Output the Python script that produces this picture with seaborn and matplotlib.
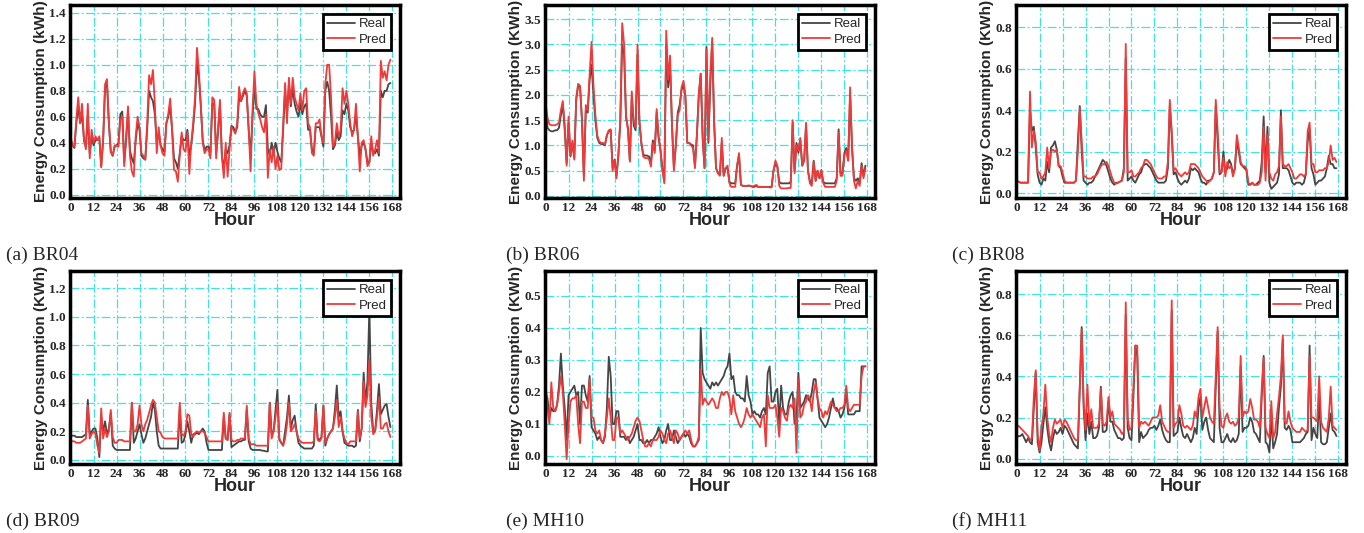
import matplotlib
matplotlib.use("Agg")
import numpy as np
import pandas as pd
import seaborn as sns
import matplotlib.pyplot as plt

# hourly values (one week, 168 h)
hours = list(range(168))

br04_real = [0.42, 0.38, 0.36, 0.55, 0.68, 0.55, 0.62, 0.42, 0.37, 0.60, 0.32, 0.45,
             0.38, 0.42, 0.42, 0.44, 0.22, 0.42, 0.82, 0.86, 0.55, 0.33, 0.30, 0.37,
             0.38, 0.40, 0.62, 0.64, 0.25, 0.42, 0.64, 0.34, 0.28, 0.24, 0.42, 0.55,
             0.50, 0.30, 0.28, 0.27, 0.50, 0.80, 0.75, 0.72, 0.62, 0.40, 0.48, 0.38,
             0.35, 0.33, 0.55, 0.60, 0.68, 0.50, 0.28, 0.25, 0.20, 0.32, 0.45, 0.42,
             0.42, 0.50, 0.30, 0.38, 0.52, 0.70, 1.02, 0.90, 0.68, 0.42, 0.34, 0.37,
             0.37, 0.32, 0.70, 0.70, 0.32, 0.48, 0.70, 0.30, 0.20, 0.35, 0.32, 0.38,
             0.53, 0.52, 0.48, 0.52, 0.75, 0.72, 0.76, 0.80, 0.76, 0.50, 0.30, 0.60,
             0.85, 0.66, 0.66, 0.62, 0.60, 0.60, 0.69, 0.35, 0.30, 0.40, 0.32, 0.40,
             0.33, 0.28, 0.25, 0.50, 0.80, 0.62, 0.85, 0.68, 0.82, 0.70, 0.64, 0.60,
             0.70, 0.62, 0.68, 0.70, 0.50, 0.50, 0.35, 0.32, 0.52, 0.52, 0.52, 0.45,
             0.37, 0.80, 0.87, 0.80, 0.60, 0.35, 0.38, 0.48, 0.42, 0.45, 0.65, 0.62,
             0.70, 0.65, 0.52, 0.48, 0.50, 0.62, 0.45, 0.30, 0.38, 0.40, 0.35, 0.25,
             0.25, 0.40, 0.32, 0.32, 0.35, 0.30, 0.80, 0.75, 0.80, 0.80, 0.85, 0.86]
br04_pred = [0.45, 0.38, 0.37, 0.58, 0.75, 0.55, 0.70, 0.42, 0.35, 0.70, 0.28, 0.50,
             0.40, 0.45, 0.42, 0.45, 0.21, 0.42, 0.85, 0.89, 0.55, 0.33, 0.30, 0.38,
             0.38, 0.37, 0.58, 0.60, 0.22, 0.45, 0.68, 0.30, 0.18, 0.14, 0.45, 0.60,
             0.52, 0.32, 0.30, 0.27, 0.55, 0.92, 0.85, 0.96, 0.70, 0.32, 0.52, 0.38,
             0.32, 0.30, 0.55, 0.62, 0.74, 0.50, 0.19, 0.18, 0.10, 0.30, 0.48, 0.35,
             0.33, 0.48, 0.16, 0.40, 0.55, 0.75, 1.13, 0.95, 0.70, 0.40, 0.32, 0.35,
             0.35, 0.28, 0.75, 0.73, 0.28, 0.50, 0.73, 0.30, 0.13, 0.40, 0.14, 0.35,
             0.52, 0.50, 0.47, 0.55, 0.83, 0.72, 0.78, 0.82, 0.78, 0.50, 0.18, 0.65,
             0.95, 0.70, 0.63, 0.58, 0.52, 0.48, 0.62, 0.13, 0.35, 0.25, 0.37, 0.20,
             0.30, 0.19, 0.20, 0.55, 0.86, 0.55, 0.90, 0.70, 0.90, 0.75, 0.70, 0.65,
             0.78, 0.65, 0.80, 0.82, 0.55, 0.52, 0.32, 0.30, 0.55, 0.55, 0.58, 0.45,
             0.40, 0.85, 1.00, 1.00, 0.75, 0.37, 0.40, 0.55, 0.45, 0.50, 0.82, 0.70,
             0.80, 0.70, 0.55, 0.45, 0.50, 0.70, 0.45, 0.18, 0.40, 0.42, 0.35, 0.22,
             0.25, 0.45, 0.30, 0.35, 0.42, 0.32, 1.03, 0.90, 0.95, 0.88, 1.00, 1.04]

br06_real = [1.80, 1.35, 1.30, 1.28, 1.28, 1.30, 1.30, 1.35, 1.60, 1.80, 1.30, 0.65,
             1.45, 0.78, 1.05, 0.75, 1.90, 2.18, 2.15, 1.50, 0.40, 1.70, 1.65, 2.30,
             2.60, 2.00, 1.50, 1.15, 1.05, 1.03, 1.02, 1.00, 1.20, 1.28, 1.30, 0.55,
             0.72, 0.40, 0.80, 1.45, 3.00, 2.80, 1.55, 1.35, 0.70, 1.95, 1.40, 1.30,
             2.80, 1.45, 1.05, 0.82, 0.80, 0.80, 0.78, 0.65, 1.10, 0.90, 1.65, 1.15,
             0.90, 0.55, 0.30, 3.00, 2.15, 2.60, 1.40, 0.55, 1.00, 1.65, 1.80, 2.10,
             2.20, 1.95, 1.05, 1.05, 1.02, 1.00, 0.60, 1.20, 2.00, 2.42, 1.15, 0.55,
             2.95, 1.05, 2.20, 3.05, 1.45, 0.55, 0.45, 0.42, 1.05, 0.40, 0.55, 0.55,
             0.28, 0.25, 0.25, 0.25, 0.60, 0.80, 0.22, 0.20, 0.20, 0.20, 0.20, 0.20,
             0.18, 0.18, 0.20, 0.18, 0.18, 0.18, 0.18, 0.18, 0.18, 0.18, 0.18, 0.50,
             0.65, 0.58, 0.28, 0.25, 0.25, 0.25, 0.25, 0.25, 0.28, 1.45, 0.50, 1.05,
             0.85, 1.10, 0.60, 0.70, 1.40, 0.50, 0.30, 0.25, 0.70, 0.30, 0.50, 0.35,
             0.50, 0.28, 0.25, 0.25, 0.25, 0.25, 0.25, 0.25, 0.35, 1.32, 0.45, 0.45,
             0.85, 0.95, 0.70, 2.00, 0.95, 0.35, 0.30, 0.35, 0.25, 0.65, 0.40, 0.60]
br06_pred = [1.85, 1.55, 1.42, 1.40, 1.40, 1.40, 1.42, 1.45, 1.70, 1.88, 1.40, 0.60,
             1.57, 0.80, 1.10, 0.72, 1.95, 2.22, 2.18, 1.50, 0.30, 1.80, 1.70, 2.40,
             3.05, 2.20, 1.60, 1.20, 1.08, 1.05, 1.05, 1.02, 1.20, 1.30, 1.32, 0.50,
             0.70, 0.35, 0.80, 1.50, 3.42, 3.00, 1.60, 1.30, 0.68, 2.07, 1.50, 1.35,
             3.00, 1.50, 1.05, 0.78, 0.75, 0.75, 0.73, 0.58, 1.05, 0.85, 1.72, 1.20,
             0.90, 0.50, 0.25, 3.27, 2.30, 2.78, 1.40, 0.50, 1.00, 1.60, 1.70, 2.15,
             2.28, 2.00, 1.05, 1.05, 1.00, 0.95, 0.55, 1.20, 2.00, 2.42, 1.20, 0.55,
             2.90, 1.10, 2.40, 3.13, 1.50, 0.55, 0.45, 0.40, 1.15, 0.40, 0.55, 0.60,
             0.25, 0.18, 0.18, 0.18, 0.60, 0.85, 0.22, 0.20, 0.20, 0.20, 0.21, 0.20,
             0.19, 0.20, 0.22, 0.18, 0.18, 0.18, 0.18, 0.18, 0.18, 0.17, 0.17, 0.50,
             0.70, 0.60, 0.20, 0.15, 0.15, 0.15, 0.15, 0.16, 0.16, 1.50, 0.45, 1.00,
             0.90, 1.15, 0.60, 0.70, 1.45, 0.50, 0.25, 0.20, 0.68, 0.30, 0.50, 0.35,
             0.52, 0.25, 0.18, 0.18, 0.18, 0.18, 0.18, 0.18, 0.30, 1.25, 0.40, 0.40,
             0.80, 0.90, 0.70, 2.15, 1.00, 0.30, 0.15, 0.30, 0.20, 0.60, 0.35, 0.55]

br08_real = [0.06, 0.055, 0.05, 0.05, 0.05, 0.05, 0.05, 0.40, 0.30, 0.32, 0.22, 0.09,
             0.05, 0.04, 0.07, 0.06, 0.15, 0.10, 0.22, 0.23, 0.25, 0.21, 0.13, 0.12,
             0.08, 0.05, 0.05, 0.05, 0.05, 0.05, 0.05, 0.06, 0.25, 0.42, 0.20, 0.06,
             0.05, 0.04, 0.05, 0.05, 0.06, 0.08, 0.10, 0.12, 0.14, 0.16, 0.15, 0.13,
             0.10, 0.07, 0.05, 0.04, 0.05, 0.05, 0.055, 0.06, 0.12, 0.65, 0.06, 0.07,
             0.08, 0.06, 0.05, 0.07, 0.09, 0.10, 0.13, 0.14, 0.14, 0.13, 0.12, 0.10,
             0.08, 0.06, 0.05, 0.05, 0.05, 0.05, 0.06, 0.12, 0.42, 0.28, 0.09, 0.10,
             0.07, 0.05, 0.04, 0.05, 0.06, 0.05, 0.07, 0.12, 0.11, 0.12, 0.11, 0.10,
             0.07, 0.05, 0.05, 0.04, 0.06, 0.06, 0.07, 0.10, 0.42, 0.25, 0.09, 0.10,
             0.20, 0.10, 0.12, 0.16, 0.14, 0.09, 0.12, 0.25, 0.20, 0.14, 0.13, 0.12,
             0.11, 0.04, 0.04, 0.05, 0.04, 0.04, 0.05, 0.06, 0.15, 0.37, 0.10, 0.32,
             0.05, 0.02, 0.03, 0.04, 0.05, 0.09, 0.40, 0.12, 0.12, 0.12, 0.11, 0.08,
             0.05, 0.04, 0.05, 0.05, 0.05, 0.04, 0.05, 0.09, 0.25, 0.31, 0.12, 0.09,
             0.04, 0.05, 0.06, 0.06, 0.07, 0.08, 0.12, 0.18, 0.14, 0.14, 0.12, 0.12]
br08_pred = [0.06, 0.055, 0.05, 0.05, 0.05, 0.05, 0.05, 0.49, 0.22, 0.30, 0.25, 0.10,
             0.10, 0.07, 0.08, 0.10, 0.22, 0.12, 0.20, 0.21, 0.20, 0.21, 0.13, 0.13,
             0.10, 0.06, 0.05, 0.05, 0.05, 0.05, 0.05, 0.06, 0.20, 0.41, 0.25, 0.08,
             0.08, 0.07, 0.07, 0.07, 0.08, 0.08, 0.09, 0.11, 0.13, 0.14, 0.14, 0.15,
             0.13, 0.10, 0.07, 0.05, 0.045, 0.05, 0.055, 0.06, 0.10, 0.72, 0.10, 0.10,
             0.11, 0.08, 0.08, 0.09, 0.10, 0.12, 0.13, 0.16, 0.16, 0.15, 0.14, 0.12,
             0.10, 0.08, 0.07, 0.07, 0.07, 0.08, 0.08, 0.15, 0.45, 0.30, 0.11, 0.12,
             0.10, 0.09, 0.08, 0.09, 0.10, 0.09, 0.10, 0.14, 0.14, 0.14, 0.13, 0.12,
             0.10, 0.08, 0.07, 0.06, 0.05, 0.06, 0.07, 0.10, 0.45, 0.30, 0.10, 0.10,
             0.17, 0.08, 0.15, 0.12, 0.13, 0.08, 0.12, 0.28, 0.22, 0.15, 0.13, 0.13,
             0.12, 0.05, 0.04, 0.05, 0.04, 0.04, 0.04, 0.05, 0.10, 0.32, 0.06, 0.28,
             0.10, 0.07, 0.06, 0.09, 0.10, 0.13, 0.37, 0.14, 0.13, 0.13, 0.14, 0.12,
             0.10, 0.07, 0.07, 0.08, 0.09, 0.09, 0.08, 0.09, 0.30, 0.34, 0.14, 0.14,
             0.10, 0.10, 0.11, 0.11, 0.11, 0.12, 0.12, 0.15, 0.23, 0.16, 0.17, 0.15]

br09_real = [0.17, 0.17, 0.17, 0.16, 0.16, 0.16, 0.16, 0.17, 0.18, 0.42, 0.18, 0.20,
             0.22, 0.22, 0.15, 0.02, 0.30, 0.20, 0.27, 0.18, 0.22, 0.33, 0.10, 0.08,
             0.07, 0.07, 0.07, 0.07, 0.07, 0.07, 0.07, 0.07, 0.40, 0.12, 0.15, 0.20,
             0.25, 0.18, 0.12, 0.15, 0.20, 0.25, 0.30, 0.40, 0.35, 0.20, 0.10, 0.08,
             0.08, 0.08, 0.08, 0.08, 0.08, 0.08, 0.08, 0.08, 0.08, 0.35, 0.12, 0.13,
             0.18, 0.27, 0.20, 0.12, 0.18, 0.18, 0.19, 0.18, 0.20, 0.22, 0.20, 0.12,
             0.07, 0.07, 0.07, 0.07, 0.07, 0.07, 0.07, 0.07, 0.30, 0.15, 0.14, 0.32,
             0.09, 0.10, 0.11, 0.12, 0.13, 0.13, 0.14, 0.14, 0.35, 0.13, 0.08, 0.07,
             0.07, 0.07, 0.07, 0.07, 0.065, 0.065, 0.06, 0.06, 0.40, 0.18, 0.20, 0.35,
             0.49, 0.14, 0.12, 0.10, 0.20, 0.30, 0.45, 0.22, 0.28, 0.31, 0.20, 0.12,
             0.10, 0.09, 0.08, 0.08, 0.08, 0.08, 0.08, 0.10, 0.39, 0.15, 0.14, 0.16,
             0.38, 0.10, 0.15, 0.18, 0.20, 0.22, 0.35, 0.52, 0.30, 0.34, 0.20, 0.12,
             0.11, 0.10, 0.10, 0.10, 0.09, 0.10, 0.35, 0.13, 0.22, 0.61, 0.40, 0.55,
             1.06, 0.40, 0.20, 0.20, 0.35, 0.53, 0.32, 0.35, 0.38, 0.39, 0.30, 0.23]
br09_pred = [0.14, 0.13, 0.13, 0.12, 0.12, 0.12, 0.13, 0.14, 0.15, 0.38, 0.15, 0.18,
             0.20, 0.18, 0.10, 0.05, 0.36, 0.15, 0.22, 0.16, 0.20, 0.35, 0.16, 0.12,
             0.12, 0.14, 0.14, 0.14, 0.13, 0.13, 0.13, 0.13, 0.40, 0.20, 0.20, 0.25,
             0.38, 0.25, 0.20, 0.25, 0.28, 0.33, 0.38, 0.42, 0.40, 0.30, 0.20, 0.19,
             0.16, 0.15, 0.15, 0.15, 0.15, 0.15, 0.15, 0.15, 0.15, 0.40, 0.18, 0.17,
             0.20, 0.32, 0.31, 0.18, 0.16, 0.19, 0.20, 0.19, 0.20, 0.20, 0.19, 0.16,
             0.13, 0.13, 0.13, 0.13, 0.13, 0.13, 0.13, 0.13, 0.33, 0.15, 0.14, 0.33,
             0.14, 0.13, 0.13, 0.14, 0.14, 0.15, 0.15, 0.15, 0.38, 0.15, 0.11, 0.11,
             0.11, 0.10, 0.10, 0.10, 0.10, 0.10, 0.10, 0.10, 0.40, 0.15, 0.20, 0.30,
             0.40, 0.15, 0.12, 0.10, 0.15, 0.25, 0.40, 0.20, 0.22, 0.25, 0.20, 0.15,
             0.13, 0.12, 0.12, 0.12, 0.12, 0.12, 0.12, 0.13, 0.34, 0.14, 0.13, 0.15,
             0.38, 0.12, 0.15, 0.18, 0.20, 0.22, 0.30, 0.42, 0.23, 0.30, 0.20, 0.15,
             0.12, 0.11, 0.13, 0.13, 0.13, 0.13, 0.34, 0.15, 0.22, 0.55, 0.37, 0.45,
             0.70, 0.30, 0.18, 0.20, 0.30, 0.44, 0.22, 0.22, 0.25, 0.26, 0.20, 0.16]

mh10_real = [0.20, 0.18, 0.12, 0.15, 0.14, 0.14, 0.16, 0.22, 0.32, 0.22, 0.15, 0.05,
             0.19, 0.20, 0.21, 0.22, 0.19, 0.20, 0.10, 0.22, 0.22, 0.19, 0.17, 0.25,
             0.09, 0.08, 0.07, 0.05, 0.06, 0.05, 0.04, 0.06, 0.15, 0.31, 0.25, 0.10,
             0.10, 0.14, 0.14, 0.06, 0.06, 0.06, 0.05, 0.06, 0.04, 0.05, 0.06, 0.08,
             0.10, 0.05, 0.05, 0.04, 0.04, 0.05, 0.04, 0.05, 0.05, 0.06, 0.07, 0.09,
             0.06, 0.04, 0.05, 0.08, 0.10, 0.05, 0.05, 0.08, 0.06, 0.04, 0.05, 0.06,
             0.07, 0.06, 0.07, 0.06, 0.04, 0.03, 0.03, 0.04, 0.05, 0.40, 0.26, 0.24,
             0.23, 0.22, 0.21, 0.23, 0.22, 0.23, 0.22, 0.23, 0.24, 0.25, 0.27, 0.28,
             0.32, 0.24, 0.25, 0.20, 0.19, 0.19, 0.18, 0.18, 0.17, 0.25, 0.19, 0.17,
             0.13, 0.14, 0.13, 0.13, 0.12, 0.14, 0.15, 0.13, 0.26, 0.28, 0.17, 0.17,
             0.20, 0.21, 0.10, 0.22, 0.15, 0.13, 0.13, 0.17, 0.19, 0.20, 0.10, 0.12,
             0.26, 0.15, 0.16, 0.17, 0.19, 0.18, 0.17, 0.20, 0.24, 0.24, 0.18, 0.12,
             0.11, 0.10, 0.09, 0.10, 0.12, 0.15, 0.18, 0.15, 0.15, 0.14, 0.12, 0.13,
             0.15, 0.20, 0.13, 0.13, 0.13, 0.13, 0.14, 0.14, 0.14, 0.28, 0.28, 0.28]
mh10_pred = [0.22, 0.15, 0.10, 0.23, 0.15, 0.14, 0.16, 0.20, 0.25, 0.20, 0.10, -0.01,
             0.10, 0.17, 0.18, 0.18, 0.19, 0.10, 0.04, 0.17, 0.17, 0.15, 0.15, 0.24,
             0.12, 0.12, 0.08, 0.07, 0.08, 0.05, 0.04, 0.07, 0.12, 0.18, 0.12, 0.05,
             0.05, 0.12, 0.12, 0.07, 0.08, 0.07, 0.06, 0.05, 0.06, 0.07, 0.09, 0.11,
             0.12, 0.11, 0.08, 0.05, 0.03, 0.03, 0.04, 0.03, 0.05, 0.05, 0.05, 0.06,
             0.08, 0.07, 0.05, 0.04, 0.07, 0.08, 0.06, 0.04, 0.08, 0.07, 0.05, 0.06,
             0.07, 0.08, 0.07, 0.08, 0.05, 0.03, 0.03, 0.04, 0.06, 0.27, 0.16, 0.18,
             0.17, 0.16, 0.17, 0.18, 0.17, 0.15, 0.15, 0.18, 0.20, 0.19, 0.20, 0.20,
             0.18, 0.13, 0.19, 0.14, 0.12, 0.10, 0.09, 0.10, 0.12, 0.15, 0.13, 0.12,
             0.13, 0.12, 0.11, 0.10, 0.09, 0.12, 0.13, 0.03, 0.19, 0.15, 0.15, 0.15,
             0.16, 0.12, 0.06, 0.15, 0.14, 0.12, 0.11, 0.15, 0.16, 0.15, 0.18, 0.01,
             0.24, 0.12, 0.13, 0.16, 0.17, 0.19, 0.18, 0.14, 0.20, 0.23, 0.18, 0.15,
             0.14, 0.12, 0.14, 0.13, 0.15, 0.17, 0.16, 0.15, 0.14, 0.14, 0.15, 0.15,
             0.16, 0.22, 0.15, 0.14, 0.15, 0.16, 0.16, 0.16, 0.16, 0.25, 0.28, 0.28]

mh11_real = [0.10, 0.11, 0.11, 0.12, 0.10, 0.08, 0.10, 0.08, 0.07, 0.25, 0.42, 0.08,
             0.03, 0.08, 0.17, 0.25, 0.15, 0.08, 0.04, 0.10, 0.14, 0.12, 0.13, 0.15,
             0.12, 0.16, 0.15, 0.13, 0.11, 0.09, 0.07, 0.06, 0.05, 0.35, 0.64, 0.25,
             0.09, 0.22, 0.12, 0.18, 0.10, 0.10, 0.11, 0.15, 0.35, 0.13, 0.13, 0.14,
             0.28, 0.18, 0.18, 0.14, 0.12, 0.10, 0.10, 0.09, 0.10, 0.70, 0.15, 0.10,
             0.09, 0.30, 0.55, 0.50, 0.08, 0.13, 0.10, 0.11, 0.12, 0.14, 0.15, 0.15,
             0.16, 0.14, 0.16, 0.19, 0.14, 0.11, 0.09, 0.08, 0.08, 0.72, 0.11, 0.12,
             0.13, 0.20, 0.15, 0.11, 0.10, 0.12, 0.10, 0.08, 0.10, 0.15, 0.12, 0.25,
             0.30, 0.14, 0.18, 0.20, 0.14, 0.10, 0.09, 0.08, 0.35, 0.62, 0.15, 0.08,
             0.08, 0.10, 0.12, 0.09, 0.08, 0.10, 0.08, 0.09, 0.12, 0.45, 0.13, 0.15,
             0.15, 0.16, 0.20, 0.18, 0.13, 0.12, 0.10, 0.08, 0.30, 0.50, 0.08, 0.07,
             0.03, 0.20, 0.05, 0.08, 0.12, 0.25, 0.35, 0.58, 0.15, 0.14, 0.16, 0.14,
             0.08, 0.08, 0.08, 0.08, 0.08, 0.09, 0.10, 0.12, 0.13, 0.55, 0.09, 0.15,
             0.12, 0.10, 0.30, 0.08, 0.07, 0.07, 0.08, 0.15, 0.22, 0.14, 0.13, 0.11]
mh11_pred = [0.15, 0.16, 0.15, 0.14, 0.13, 0.12, 0.11, 0.09, 0.10, 0.30, 0.43, 0.12,
             0.04, 0.15, 0.22, 0.36, 0.20, 0.12, 0.08, 0.15, 0.19, 0.17, 0.18, 0.19,
             0.15, 0.19, 0.18, 0.16, 0.14, 0.12, 0.10, 0.09, 0.09, 0.35, 0.63, 0.28,
             0.14, 0.36, 0.16, 0.24, 0.15, 0.15, 0.15, 0.17, 0.34, 0.17, 0.16, 0.18,
             0.30, 0.20, 0.23, 0.17, 0.16, 0.15, 0.14, 0.12, 0.13, 0.76, 0.20, 0.14,
             0.15, 0.35, 0.55, 0.55, 0.15, 0.18, 0.17, 0.18, 0.17, 0.16, 0.18, 0.20,
             0.20, 0.20, 0.21, 0.26, 0.18, 0.16, 0.14, 0.13, 0.13, 0.77, 0.15, 0.17,
             0.18, 0.26, 0.22, 0.16, 0.15, 0.16, 0.15, 0.14, 0.16, 0.23, 0.20, 0.30,
             0.34, 0.20, 0.25, 0.30, 0.25, 0.20, 0.18, 0.17, 0.40, 0.64, 0.25, 0.16,
             0.15, 0.20, 0.22, 0.18, 0.17, 0.18, 0.16, 0.17, 0.20, 0.50, 0.20, 0.23,
             0.22, 0.23, 0.29, 0.25, 0.19, 0.19, 0.18, 0.15, 0.34, 0.49, 0.15, 0.12,
             0.10, 0.28, 0.10, 0.13, 0.22, 0.30, 0.40, 0.60, 0.18, 0.17, 0.23, 0.18,
             0.15, 0.14, 0.13, 0.13, 0.13, 0.15, 0.14, 0.13, 0.14, 0.50, 0.20, 0.20,
             0.19, 0.18, 0.40, 0.18, 0.15, 0.14, 0.13, 0.20, 0.35, 0.16, 0.15, 0.14]

captions = ["(a) BR04", "(b) BR06", "(c) BR08", "(d) BR09", "(e) MH10", "(f) MH11"]
ylabels = ["Energy Consumption (kWh)"] + ["Energy Consumption (KWh)"] * 5
real_series = [br04_real, br06_real, br08_real, br09_real, mh10_real, mh11_real]
pred_series = [br04_pred, br06_pred, br08_pred, br09_pred, mh10_pred, mh11_pred]
y_step = [0.2, 0.5, 0.2, 0.2, 0.1, 0.2]
y_top = [1.4, 3.5, 0.8, 1.2, 0.5, 0.8]
y_lims = [(-0.025, 1.46), (-0.04, 3.78), (-0.024, 0.908),
          (-0.028, 1.32), (-0.025, 0.578), (-0.026, 0.913)]

sns.set_style("white")
plt.rcParams["font.family"] = ["Liberation Sans", "DejaVu Sans"]

W, H = 1364, 533
fig = plt.figure(figsize=(W / 100, H / 100), dpi=100)

lefts = [70, 545, 1016]
tops = [5, 271]
cap_x = [6, 506, 952]
cap_y = [255, 521]

for i in range(6):
    r, c = divmod(i, 3)
    ax = fig.add_axes([lefts[c] / W, 1 - (tops[r] + 193) / H, 330 / W, 193 / H])
    df = pd.DataFrame({"Hour": hours, "Real": real_series[i], "Pred": pred_series[i]})
    sns.lineplot(data=df, x="Hour", y="Real", ax=ax, color="#454545", lw=1.3, label="Real")
    sns.lineplot(data=df, x="Hour", y="Pred", ax=ax, color="#F03A3A", lw=1.3, label="Pred")

    ax.set_xlim(-0.3, 172)
    ax.set_ylim(*y_lims[i])
    ax.set_xticks(range(0, 169, 12))
    yt = np.arange(0, y_top[i] + 1e-9, y_step[i])
    ax.set_yticks(yt)
    ax.set_yticklabels([f"{v:.1f}" for v in yt])

    ax.set_axisbelow(True)
    ax.grid(True, color="#3FE3E3", linestyle=(0, (7, 2, 1.5, 2)), linewidth=0.9)
    for s in ax.spines.values():
        s.set_linewidth(2.5)
        s.set_color("black")
    ax.tick_params(direction="in", length=3.5, width=3, color="black", pad=3)
    for lab in ax.get_xticklabels() + ax.get_yticklabels():
        lab.set_fontfamily("Liberation Serif")
        lab.set_fontweight("bold")
        lab.set_fontsize(9.5)

    ax.set_xlabel("Hour", fontsize=13, fontweight="bold", labelpad=-1.5)
    ax.set_ylabel(ylabels[i], fontsize=11, fontweight="bold", labelpad=1)

    leg = ax.legend(loc="upper right", frameon=True, fancybox=False, edgecolor="black",
                    fontsize=9.5, handlelength=2.1, borderpad=0.3, labelspacing=0.25,
                    handletextpad=0.3, borderaxespad=0.7)
    leg.get_frame().set_linewidth(2)
    leg.get_frame().set_alpha(1)

    fig.text(cap_x[c] / W, 1 - cap_y[r] / H, captions[i], family="Liberation Serif",
             fontsize=14, va="center", ha="left")

fig.savefig("out.png", dpi=100)
